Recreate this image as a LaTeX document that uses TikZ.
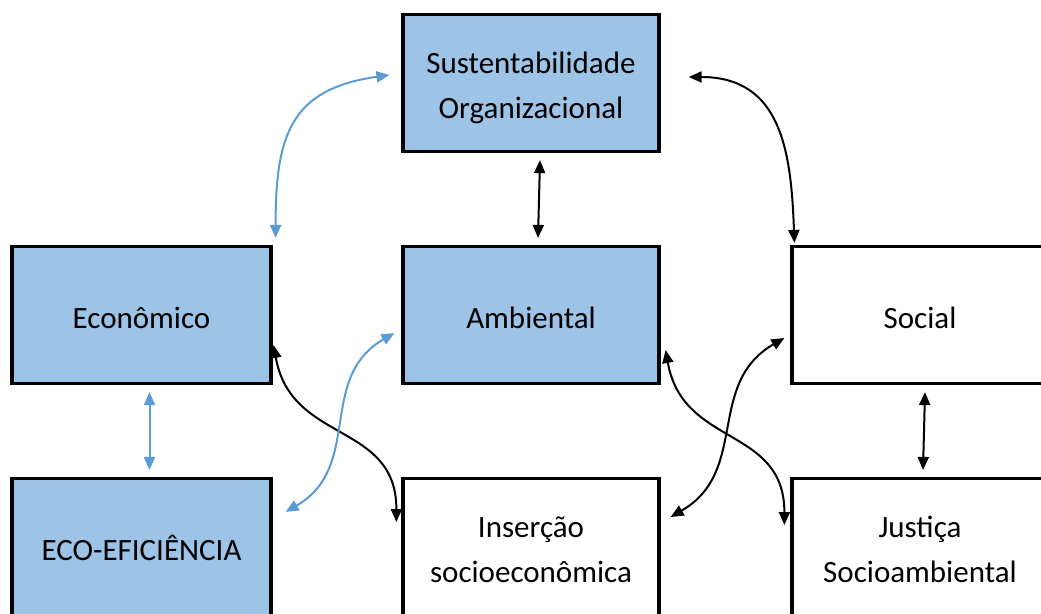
\documentclass[tikz,border=0pt]{standalone}
\usepackage{fontspec}
\setmainfont{Carlito}
\usetikzlibrary{calc,arrows.meta}

\definecolor{boxblue}{HTML}{9DC3E6}
\definecolor{arrblue}{HTML}{5B9BD5}

\begin{document}
\begin{tikzpicture}[x=1pt,y=-1pt,
  box/.style={draw=black,line width=3.2pt,minimum width=256pt,minimum height=137pt,
    align=center,inner sep=0pt,font=\fontsize{31}{45}\selectfont},
  bluebox/.style={box,fill=boxblue},
  oneline/.style={text height=26pt,text depth=0pt},
  twoline/.style={text height=70pt,text depth=0pt},
  link/.style={line width=2pt,{Triangle[length=13pt,width=11pt]}-{Triangle[length=13pt,width=11pt]}},
  bluelink/.style={link,draw=arrblue}]
\useasboundingbox (0,0) rectangle (1041,613);
\clip (0,0) rectangle (1041,613);
% boxes
\node [bluebox,twoline] (sust) at (531,83) {Sustentabilidade\\Organizacional};
\node [bluebox,oneline,minimum width=259pt] (econ) at (141.5,315) {Econômico};
\node [bluebox,oneline] (amb) at (531,315) {Ambiental};
\node [box,oneline] (social) at (920,315) {Social};
\node [bluebox,oneline,minimum width=259pt] (eco) at (141.5,547) {ECO-EFICIÊNCIA};
\node [box,twoline] (ins) at (531,547) {Inserção\\socioeconômica};
\node [box,twoline] (just) at (920,547) {Justiça\\Socioambiental};
% arrows
\draw [bluelink] ($(econ.north east)+(3,-7)$) to[out=90,in=188,looseness=1.3]
  ($(sust.west)+(-12,-8)$);
\draw [link] ($(sust.east)+(28,-6)$) to[out=0,in=92,looseness=1.2]
  ($(social.north west)+(4,-2)$);
\draw [link] ($(sust.south)+(9,7)$) -- ($(amb.north)+(7,-7)$);
\draw [bluelink] ($(econ.south)+(8,7)$) -- ($(eco.north)+(8,-7)$);
\draw [link] ($(social.south)+(5,7)$) -- ($(just.north)+(3,-7)$);
\draw [link] ($(econ.east)+(1,30)$) to[out=-80,in=90,looseness=1.2]
  ($(ins.west)+(-5,-25)$);
\draw [bluelink] ($(eco.north east)+(13,35)$) to[out=30,in=210,looseness=1.1]
  ($(amb.west)+(-7,18)$);
\draw [link] ($(amb.east)+(5,35)$) to[out=-80,in=90,looseness=1.2]
  ($(just.west)+(-6,-22)$);
\draw [link] ($(ins.east)+(10,-30)$) to[out=30,in=210,looseness=1.1]
  ($(social.west)+(-6,23)$);
\end{tikzpicture}
\end{document}
